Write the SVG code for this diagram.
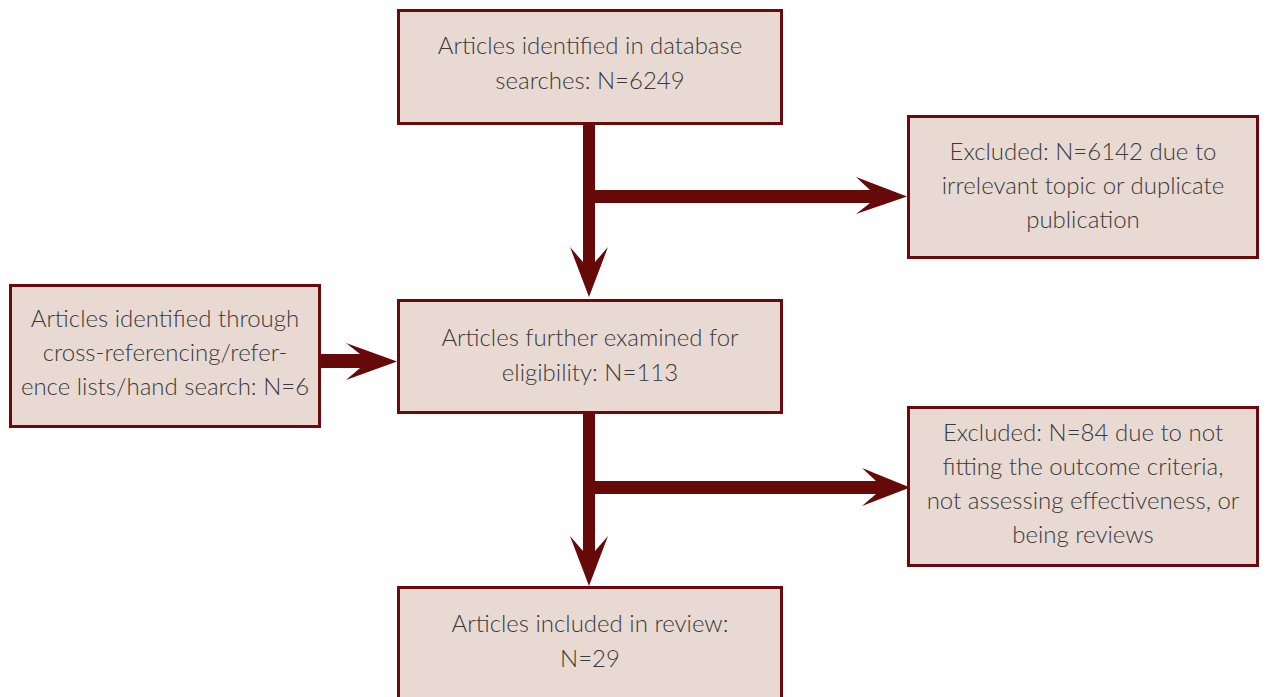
<svg xmlns="http://www.w3.org/2000/svg" width="1267" height="697" viewBox="0 0 1267 697">
<style>
.box{fill:#e8d9d2;stroke:#6b0a0c;stroke-width:3}
.t{font-family:Lato,"Open Sans","Liberation Sans",sans-serif;font-weight:300;font-size:24px;fill:#3a3a3a;text-anchor:middle}
.c{fill:#650909;stroke:none}
</style>
<rect width="1267" height="697" fill="#ffffff"/>
<g id="connectors">
<path class="c" d="M583,124 H595 V190 H870 L856,177 L907,196.5 L856,214 L870,203 H595 V262 L608,247 L589,297 L570,247 L583,262 Z"/>
<path class="c" d="M583,413 H595 V481 H876 L862,468 L910,487.5 L862,506 L876,494 H595 V551 L608,536 L589,586 L570,536 L583,551 Z"/>
<path class="c" d="M320,354 H360 L346,343 L397,361.5 L346,380 L360,368 H320 Z"/>
</g>
<g id="n1"><rect class="box" x="398.5" y="10.5" width="383" height="113"/>
<text class="t" x="590" y="54">Articles identified in database</text>
<text class="t" x="590" y="89">searches: N=6249</text></g>
<g id="n2"><rect class="box" x="908.5" y="116.5" width="349" height="141"/>
<text class="t" x="1083" y="160">Excluded: N=6142 due to</text>
<text class="t" x="1083" y="194">irrelevant topic or duplicate</text>
<text class="t" x="1083" y="228">publication</text></g>
<g id="n3"><rect class="box" x="10.5" y="285.5" width="309" height="141"/>
<text class="t" x="165" y="327">Articles identified through</text>
<text class="t" x="165" y="361">cross-referencing/refer-</text>
<text class="t" x="165" y="395">ence lists/hand search: N=6</text></g>
<g id="n4"><rect class="box" x="398.5" y="300.5" width="383" height="112"/>
<text class="t" x="590" y="346">Articles further examined for</text>
<text class="t" x="590" y="381">eligibility: N=113</text></g>
<g id="n5"><rect class="box" x="908.5" y="407.5" width="349" height="158"/>
<text class="t" x="1083" y="441">Excluded: N=84 due to not</text>
<text class="t" x="1083" y="475">fitting the outcome criteria,</text>
<text class="t" x="1083" y="509">not assessing effectiveness, or</text>
<text class="t" x="1083" y="543">being reviews</text></g>
<g id="n6"><rect class="box" x="398.5" y="587.5" width="383" height="130"/>
<text class="t" x="590" y="632">Articles included in review:</text>
<text class="t" x="590" y="667">N=29</text></g>
</svg>
